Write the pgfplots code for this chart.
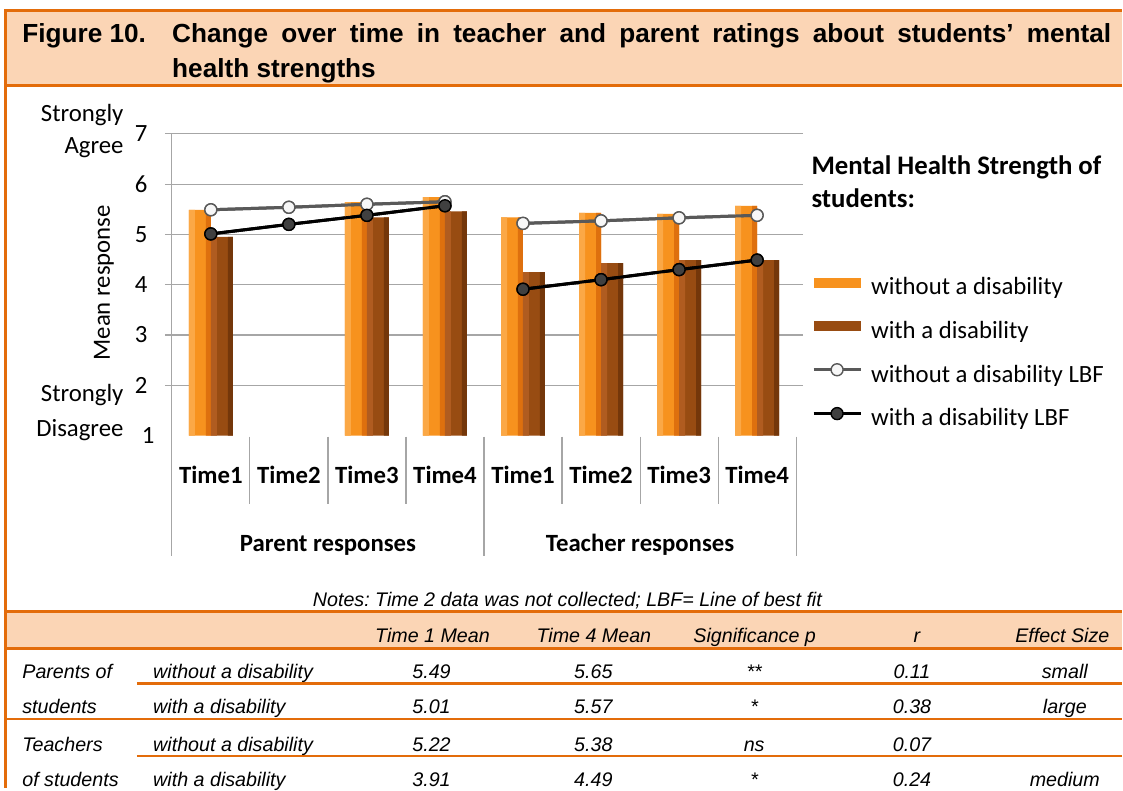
\documentclass[border=0pt]{standalone}
\usepackage{fontspec}
\setmainfont{Liberation Sans}
\newfontfamily\calibri{Carlito}
\usepackage{pgfplots}
\usepackage{pgfplotstable}
\pgfplotsset{compat=1.18}
\frenchspacing

\definecolor{frameor}{RGB}{227,108,10}
\definecolor{peach}{RGB}{251,213,181}
\definecolor{barlite}{RGB}{251,168,70}
\definecolor{barmid}{RGB}{247,146,30}
\definecolor{bardark}{RGB}{222,112,14}
\definecolor{brlite}{RGB}{176,92,32}
\definecolor{brmid}{RGB}{152,76,18}
\definecolor{brdark}{RGB}{116,55,10}
\definecolor{gridg}{RGB}{166,166,166}
\definecolor{lbfgray}{RGB}{89,89,89}
\definecolor{markdk}{RGB}{64,64,64}

\newcommand\cf{\calibri\fontsize{12.4}{14}\selectfont}
\newcommand\af{\fontsize{9.85}{12}\selectfont\itshape}

\pgfplotsset{
  barleg/.style={legend image code/.code={\fill[##1] (0pt,0.5pt) rectangle (23.5pt,5.5pt);}},
  lineleg/.style={legend image code/.code={\draw[mark repeat=2, mark phase=2, ##1] plot coordinates {(0pt,3.2pt) (11.75pt,3.2pt) (23.5pt,3.2pt)};}},
  strip/.style={ybar, draw=none, forget plot},
}

% bar means (Time 2 for parents not collected)
\pgfplotstableread{
x  wo   wi
1  5.49 4.95
2  nan  nan
3  5.64 5.34
4  5.74 5.46
5  5.34 4.25
6  5.43 4.43
7  5.41 4.49
8  5.57 4.49
}\bars
% lines of best fit
\pgfplotstableread{
x    wol  wil
1    5.49 5.01
2    5.54 5.20
3    5.60 5.38
4    5.65 5.57
4.5  nan  nan
5    5.22 3.91
6    5.27 4.10
7    5.33 4.30
8    5.38 4.49
}\lbf

\begin{document}
\begin{tikzpicture}
\begin{scope}[x=0.5pt,y=-0.5pt]
\path[use as bounding box] (0,0) rectangle (1123,789);

% title band
\fill[peach] (6,11) rectangle (1123,86);
\draw[frameor, line width=1.5pt] (1123,11) -- (6,11) -- (6,789);
\draw[frameor, line width=1.5pt] (6,86) -- (1123,86);
\node[anchor=base west, inner sep=0pt, font=\bfseries\fontsize{13.1}{16}\selectfont] at (22,43) {Figure 10.};
\node[anchor=base west, inner sep=0pt, font=\bfseries\fontsize{13.1}{16}\selectfont] at (172,43)
  {\makebox[470pt][s]{Change over time in teacher and parent ratings about students’ mental}};
\node[anchor=base west, inner sep=0pt, font=\bfseries\fontsize{13.1}{16}\selectfont] at (172,78) {health strengths};
\end{scope}

\begin{axis}[
  at={(86pt,-218pt)}, anchor=south west, scale only axis,
  width=312.5pt, height=151pt,
  xmin=0.5, xmax=8.5, ymin=1, ymax=7,
  xtick=\empty, ytick={2,...,7},
  extra y ticks={1}, extra y tick style={grid=none, major tick length=0pt},
  axis line style={draw=none},
  ymajorgrids, grid style={gridg, line width=0.6pt},
  tick align=outside, major tick length=3.5pt,
  ytick style={gridg, line width=0.6pt},
  yticklabel style={font=\cf, inner sep=0pt},
  yticklabel shift=8.5pt,
  /pgf/number format/assume math mode=true,
  unbounded coords=jump,
  legend cell align=left,
  legend style={draw=none, fill=none, inner sep=0pt, outer sep=0pt,
    at={(1.0256,0.526)}, anchor=north west, font=\cf, row sep=9.75pt,
    nodes={inner sep=0pt, text height=9pt, text depth=3pt},
    /tikz/every odd column/.append style={column sep=4.5pt}},
]
\addplot[ybar, bar width=11pt, bar shift=-5.5pt, draw=none, fill=barmid, barleg]
  table[x=x, y=wo] {\bars};
\addlegendentry{without a disability}
\addplot[ybar, bar width=11pt, bar shift=5.5pt, draw=none, fill=brmid, barleg]
  table[x=x, y=wi] {\bars};
\addlegendentry{with a disability}
\addplot[lbfgray, line width=1.5pt, mark=*, mark size=3pt,
  mark options={fill=white!94!gray, draw=lbfgray, line width=0.7pt}, lineleg]
  table[x=x, y=wol] {\lbf};
\addlegendentry{without a disability LBF}
\addplot[black, line width=1.5pt, mark=*, mark size=3pt,
  mark options={fill=markdk, draw=black, line width=0.7pt}, lineleg]
  table[x=x, y=wil] {\lbf};
\addlegendentry{with a disability LBF}
% bevel strips on the bars
\addplot[strip, bar width=3pt, bar shift=-9.5pt, fill=barlite] table[x=x, y=wo] {\bars};
\addplot[strip, bar width=2.5pt, bar shift=-1.25pt, fill=bardark] table[x=x, y=wo] {\bars};
\addplot[strip, bar width=3pt, bar shift=1.5pt, fill=brlite] table[x=x, y=wi] {\bars};
\addplot[strip, bar width=2.5pt, bar shift=9.75pt, fill=brdark] table[x=x, y=wi] {\bars};
% redraw the lines over the strips
\addplot[forget plot, lbfgray, line width=1.5pt, mark=*, mark size=3pt,
  mark options={fill=white!94!gray, draw=lbfgray, line width=0.7pt}]
  table[x=x, y=wol] {\lbf};
\addplot[forget plot, black, line width=1.5pt, mark=*, mark size=3pt,
  mark options={fill=markdk, draw=black, line width=0.7pt}]
  table[x=x, y=wil] {\lbf};
\end{axis}

\begin{scope}[x=0.5pt,y=-0.5pt]
% category axis: separators and labels
\draw[gridg, line width=0.6pt] (172,134) -- (172,557);
\foreach \x in {484.5,797} \draw[gridg, line width=0.6pt] (\x,437) -- (\x,557);
\foreach \x in {250.1,328.3,406.4,562.6,640.8,718.9} \draw[gridg, line width=0.6pt] (\x,437) -- (\x,505);
\foreach \x/\t in {211.1/Time1,289.2/Time2,367.3/Time3,445.5/Time4,523.6/Time1,601.7/Time2,679.8/Time3,757.9/Time4}
  \node[anchor=base, inner sep=0pt, font=\cf\bfseries] at (\x,484) {\t};
\node[anchor=base, inner sep=0pt, font=\cf\bfseries] at (328.3,552) {Parent responses};
\node[anchor=base, inner sep=0pt, font=\cf\bfseries] at (640.8,552) {Teacher responses};

% value axis captions
\node[rotate=90, inner sep=0pt, font=\cf] at (104,283) {Mean response};
\node[anchor=base east, inner sep=0pt, font=\cf] at (124,122) {Strongly};
\node[anchor=base east, inner sep=0pt, font=\cf] at (124,154) {Agree};
\node[anchor=base east, inner sep=0pt, font=\cf] at (124,402) {Strongly};
\node[anchor=base east, inner sep=0pt, font=\cf] at (124,437) {Disagree};

% legend title
\node[anchor=base west, inner sep=0pt, font=\calibri\bfseries\fontsize{13.4}{16}\selectfont] at (812,175) {Mental Health Strength of};
\node[anchor=base west, inner sep=0pt, font=\calibri\bfseries\fontsize{13.4}{16}\selectfont] at (812,208) {students:};

% notes
\node[anchor=base, inner sep=0pt, font=\af] at (568,607) {Notes: Time 2 data was not collected; LBF= Line of best fit};

% table
\fill[peach] (7.5,612) rectangle (1123,649);
\draw[frameor, line width=1.25pt] (6,612) -- (1123,612);
\draw[frameor, line width=1.25pt] (6,649) -- (1123,649);
\draw[frameor, line width=1.25pt] (137,684) -- (1123,684);
\draw[frameor, line width=1.25pt] (6,720) -- (1123,720);
\draw[frameor, line width=1.25pt] (137,757) -- (1123,757);
\foreach \x/\t in {433/Time 1 Mean,594.5/Time 4 Mean,755.5/Significance p,918/r}
  \node[anchor=base, inner sep=0pt, font=\af] at (\x,643) {\t};
\node[anchor=base east, inner sep=0pt, font=\af] at (1111,643) {Effect Size};
\foreach \y/\a/\b/\c/\d/\e/\f/\g in {
  679/Parents of/without a disability/5.49/5.65/**/0.11/small,
  714/students/with a disability/5.01/5.57/*/0.38/large,
  752/Teachers/without a disability/5.22/5.38/ns/0.07/,
  787/of students/with a disability/3.91/4.49/*/0.24/medium}{
  \node[anchor=base west, inner sep=0pt, font=\af] at (22,\y) {\a};
  \node[anchor=base west, inner sep=0pt, font=\af] at (153,\y) {\b};
  \node[anchor=base, inner sep=0pt, font=\af] at (432,\y) {\c};
  \node[anchor=base, inner sep=0pt, font=\af] at (594,\y) {\d};
  \node[anchor=base, inner sep=0pt, font=\af] at (755,\y) {\e};
  \node[anchor=base, inner sep=0pt, font=\af] at (913,\y) {\f};
  \node[anchor=base, inner sep=0pt, font=\af] at (1066,\y) {\g};
}
\end{scope}
\end{tikzpicture}
\end{document}
